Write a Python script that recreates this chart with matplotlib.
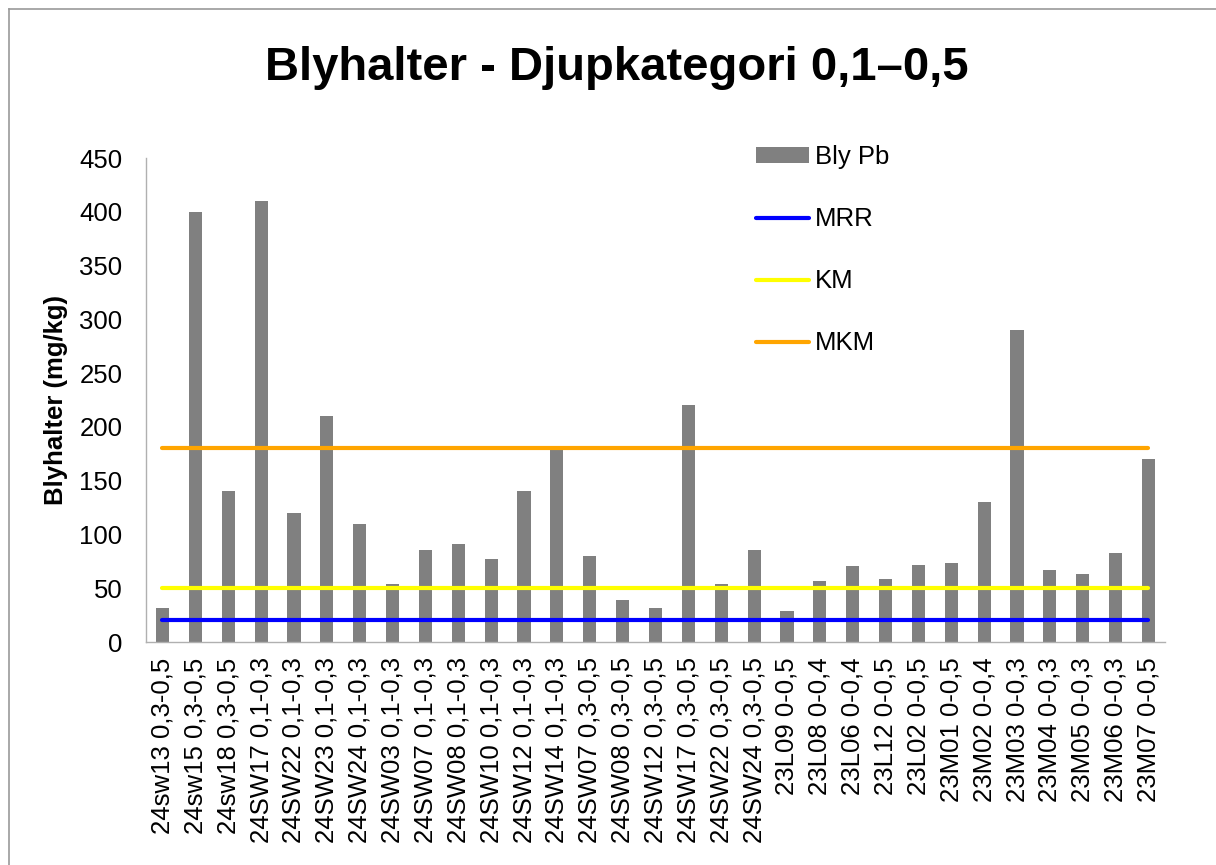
import matplotlib
matplotlib.use("Agg")
import matplotlib.pyplot as plt
from matplotlib.lines import Line2D
import numpy as np

plt.rcParams['font.family'] = ['Liberation Sans', 'DejaVu Sans']

# provpunkter och djup
samples = ["24sw13 0,3-0,5", "24sw15 0,3-0,5", "24sw18 0,3-0,5",
           "24SW17 0,1-0,3", "24SW22 0,1-0,3", "24SW23 0,1-0,3",
           "24SW24 0,1-0,3", "24SW03 0,1-0,3", "24SW07 0,1-0,3",
           "24SW08 0,1-0,3", "24SW10 0,1-0,3", "24SW12 0,1-0,3",
           "24SW14 0,1-0,3", "24SW07 0,3-0,5", "24SW08 0,3-0,5",
           "24SW12 0,3-0,5", "24SW17 0,3-0,5", "24SW22 0,3-0,5",
           "24SW24 0,3-0,5", "23L09 0-0,5", "23L08 0-0,4", "23L06 0-0,4",
           "23L12 0-0,5", "23L02 0-0,5", "23M01 0-0,5", "23M02 0-0,4",
           "23M03 0-0,3", "23M04 0-0,3", "23M05 0-0,3", "23M06 0-0,3",
           "23M07 0-0,5"]

bly_pb = [32, 400, 140, 410, 120, 210, 110, 54, 86, 91, 77, 140, 180, 80,
          39, 32, 220, 54, 86, 29, 57, 71, 59, 72, 73, 130, 290, 67, 63, 83,
          170]

# riktvarden
mrr = 20
km = 50
mkm = 180

fig = plt.figure(figsize=(12.16, 8.65), dpi=100)
ax = fig.add_axes([0.1201, 0.2578, 0.958 - 0.1201, 0.8173 - 0.2578])

x = np.arange(len(samples))
bars = ax.bar(x, bly_pb, width=0.4, color='#808080', label='Bly Pb', zorder=2)
l1, = ax.plot(x, [mrr] * len(x), color='#0000ff', lw=3, solid_capstyle='round', label='MRR', zorder=3)
l2, = ax.plot(x, [km] * len(x), color='#ffff00', lw=3, solid_capstyle='round', label='KM', zorder=3)
l3, = ax.plot(x, [mkm] * len(x), color='#ffa500', lw=3, solid_capstyle='round', label='MKM', zorder=3)

ax.set_xlim(-0.5, len(samples) - 0.5)
ax.set_ylim(0, 450)
ax.set_yticks(range(0, 451, 50))
ax.set_xticks(x)
ax.set_xticklabels(samples, rotation=90)
ax.tick_params(axis='y', length=0, pad=17, labelsize=18.5)
ax.tick_params(axis='x', length=0, pad=11, labelsize=18.5)

for s in ['top', 'right']:
    ax.spines[s].set_visible(False)
for s in ['left', 'bottom']:
    ax.spines[s].set_color('#b0b0b0')
    ax.spines[s].set_linewidth(1.0)

ax.set_ylabel('Blyhalter (mg/kg)', fontsize=18.5, fontweight='bold', labelpad=8)

fig.text(0.5075, 0.921, 'Blyhalter - Djupkategori 0,1\u20130,5', ha='center', va='center',
         fontsize=34, fontweight='bold')

ax.legend([bars, l1, l2, l3], ['Bly Pb', 'MRR', 'KM', 'MKM'],
          loc='upper left', bbox_to_anchor=(0.6217, 0.8325), bbox_transform=fig.transFigure,
          frameon=False, fontsize=18.5, borderpad=0, borderaxespad=0,
          handlelength=2.05, handletextpad=0.25, handleheight=0.55, labelspacing=1.48)

# ram runt diagrammet
fig.add_artist(Line2D([9 / 1216, 1.0], [1 - 9 / 865, 1 - 9 / 865], transform=fig.transFigure,
                      color='#999999', lw=1.2))
fig.add_artist(Line2D([9 / 1216, 9 / 1216], [0.0, 1 - 9 / 865], transform=fig.transFigure,
                      color='#999999', lw=1.2))

fig.savefig('out.png', dpi=100)
